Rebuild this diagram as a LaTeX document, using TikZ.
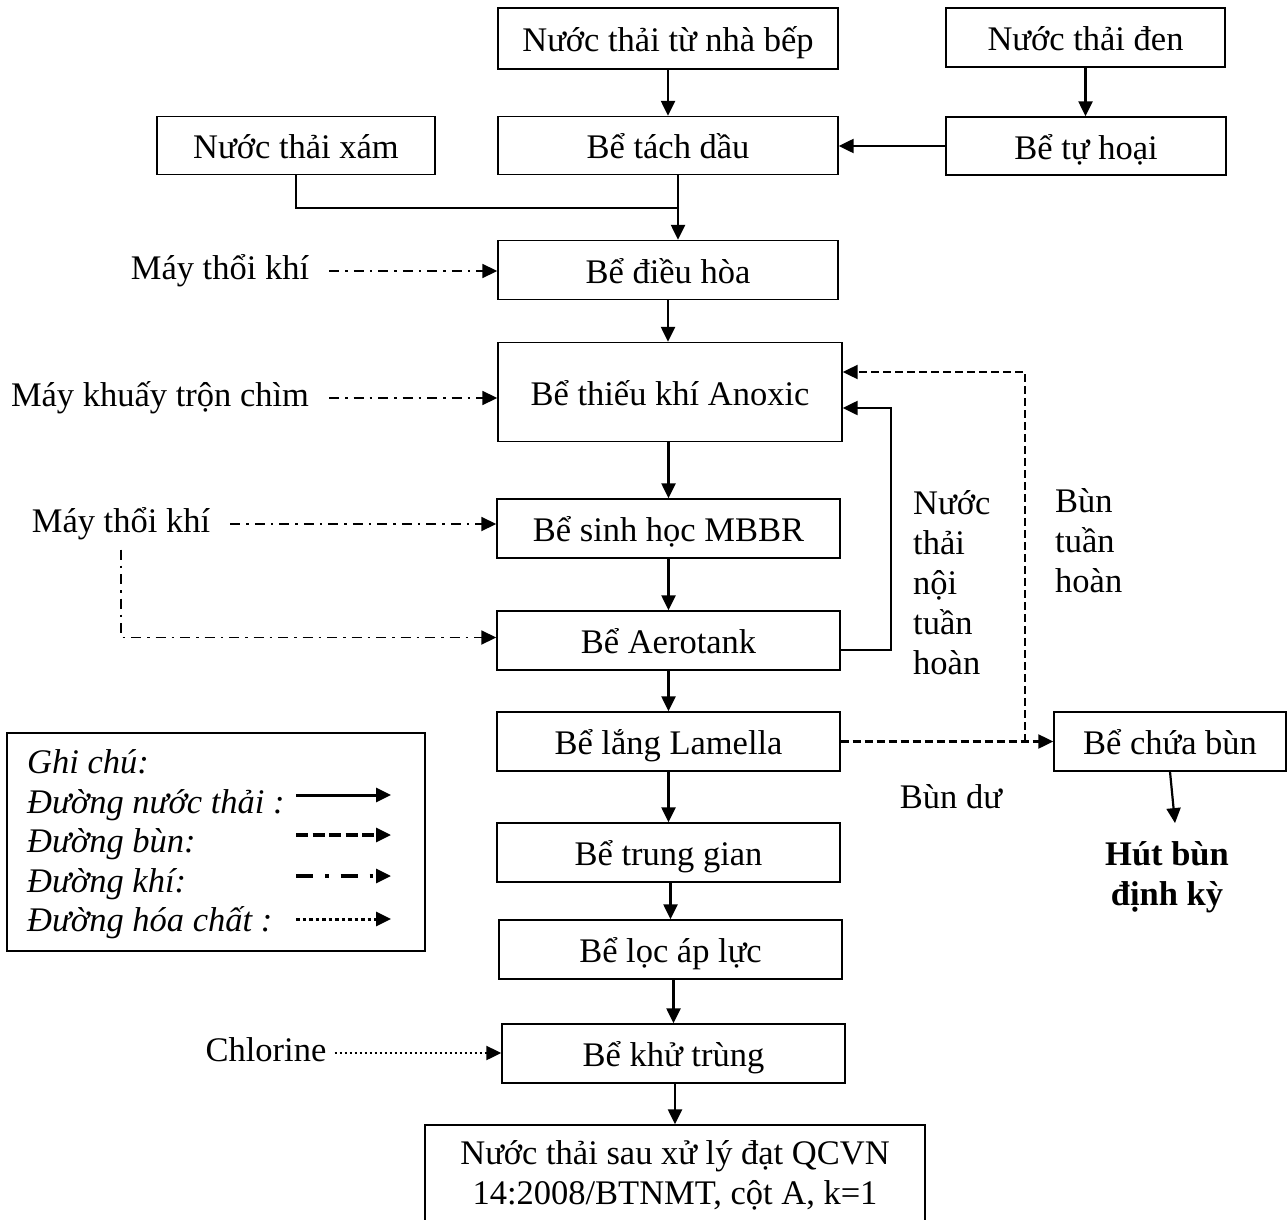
\documentclass[tikz,border=0pt]{standalone}
\usepackage{fontspec}
\setmainfont{Liberation Serif}
\usetikzlibrary{arrows.meta,calc}
\begin{document}
\begin{tikzpicture}[x=1pt,y=-1pt,font=\fontsize{34.5}{40}\selectfont,
  box/.style={draw,line width=1.4pt,inner sep=0pt,align=center},
  one/.style={text height=32pt,text depth=6pt},
  lbl/.style={inner sep=0pt,align=left},
  lone/.style={lbl,text height=26pt,text depth=9pt},
  tip/.style={-{Triangle[length=15pt,width=14pt]}},
  flow/.style={line width=2.4pt,tip},
  plain/.style={line width=2.2pt},
  mud/.style={line width=2.2pt,dash pattern=on 8pt off 4pt,tip},
  air/.style={line width=1.8pt,dash pattern=on 10pt off 6pt on 2.5pt off 6pt,tip},
  chem/.style={line width=2.2pt,dash pattern=on 2.5pt off 2.5pt,tip}]
\fill[white] (0,0) rectangle (1287,1220);
\useasboundingbox (0,0) rectangle (1287,1220);

% boxes
\node[box,one,minimum width=340pt,minimum height=61pt] (kit) at (668,38.5) {Nước thải từ nhà bếp};
\node[box,one,minimum width=279pt,minimum height=59pt] (den) at (1085.5,37.5) {Nước thải đen};
\node[box,one,minimum width=278pt,minimum height=58pt] (xam) at (296,145.5) {Nước thải xám};
\node[box,one,minimum width=340pt,minimum height=58pt] (tach) at (668,145.5) {Bể tách dầu};
\node[box,one,minimum width=280pt,minimum height=58pt] (tuhoai) at (1086,146) {Bể tự hoại};
\node[box,one,minimum width=340pt,minimum height=59pt] (dieuhoa) at (668,270) {Bể điều hòa};
\node[box,one,minimum width=344pt,minimum height=99pt] (anoxic) at (670,392) {Bể thiếu khí Anoxic};
\node[box,one,minimum width=343pt,minimum height=59pt] (mbbr) at (668.5,528.5) {Bể sinh học MBBR};
\node[box,one,minimum width=343pt,minimum height=59pt] (aero) at (668.5,640.5) {Bể Aerotank};
\node[box,one,minimum width=343pt,minimum height=59pt] (lamella) at (668.5,741.5) {Bể lắng Lamella};
\node[box,one,minimum width=343pt,minimum height=59pt] (trung) at (668.5,852.5) {Bể trung gian};
\node[box,one,minimum width=343pt,minimum height=59pt] (loc) at (670.5,949.5) {Bể lọc áp lực};
\node[box,one,minimum width=343pt,minimum height=59pt] (khu) at (673.5,1053.5) {Bể khử trùng};
\node[box,minimum width=500pt,minimum height=100pt] (final) at (675,1175) {Nước thải sau xử lý đạt QCVN\\14:2008/BTNMT, cột A, k=1};
\node[box,one,minimum width=232pt,minimum height=59pt] (chua) at (1170,741.5) {Bể chứa bùn};

% labels
\node[lone] (may1) at (220,271) {Máy thổi khí};
\node[lone] (may2) at (160,398) {Máy khuấy trộn chìm};
\node[lone] (may3) at (121,524) {Máy thổi khí};
\node[lone] (chl) at (266,1053) {Chlorine};
\node[lbl,anchor=west] (ntnth) at (913,583) {Nước\\thải\\nội\\tuần\\hoàn};
\node[lbl,anchor=west] (bth) at (1055,541) {Bùn\\tuần\\hoàn};
\node[lbl,anchor=base] (bundu) at (951,808) {Bùn dư};
\node[lbl,align=center,font=\fontsize{34.5}{40}\selectfont\bfseries] (hut) at (1167,877) {Hút bùn\\định kỳ};

% main flow
\draw[flow] (kit.south) -- (kit.south |- tach.north);
\draw[flow] (den.south) -- (den.south |- tuhoai.north);
\draw[flow] (tuhoai.west) -- (tuhoai.west -| tach.east);
\coordinate (j) at (678,208);
\draw[flow] ([xshift=10pt]tach.south) -- ([xshift=10pt]tach.south |- dieuhoa.north);
\draw[plain] (xam.south) |- (j);
\draw[flow] (dieuhoa.south) -- (dieuhoa.south |- anoxic.north);
\draw[flow] (anoxic.south -| mbbr.north) -- (mbbr.north);
\draw[flow] (mbbr.south) -- (aero.north);
\draw[flow] (aero.south) -- (lamella.north);
\draw[flow] (lamella.south) -- (trung.north);
\draw[flow] (trung.south -| loc.north) -- (loc.north);
\draw[flow] (loc.south -| khu.north) -- (khu.north);
\draw[flow] (khu.south -| final.north) -- (final.north);

% internal recirculation
\coordinate (r1) at (891,408);
\draw[flow] ([yshift=-9.5pt]aero.east) -| (r1) -- (r1 -| anoxic.east);

% sludge
\coordinate (r2) at (1025,372);
\draw[mud] (lamella.east) -- (chua.west);
\draw[mud] (lamella.east -| r2) -- (r2) -- (r2 -| anoxic.east);
\draw[flow,line width=2.2pt] (chua.south) -- ([xshift=8pt,yshift=18pt]hut.north);

% air
\draw[air,shorten <=20pt] (may1.east) -- (may1.east -| dieuhoa.west);
\draw[air,shorten <=20pt] (may2.east) -- (may2.east -| anoxic.west);
\draw[air,shorten <=20pt] (may3.east) -- (may3.east -| mbbr.west);
\draw[air] ($(may3.south)+(0,8)$) |- ([yshift=3pt]aero.west);

% chemical
\draw[chem,shorten <=8pt] (chl.east) -- (chl.east -| khu.west);

% legend
\node[box,minimum width=418pt,minimum height=218pt] (leg) at (216,842) {};
\begin{scope}[every node/.style={lbl,anchor=base west,font=\fontsize{34.5}{40}\selectfont\itshape}]
\node (g0) at (27,773) {Ghi chú:};
\node (g1) at (27,813) {Đường nước thải :};
\node (g2) at (27,852) {Đường bùn:};
\node (g3) at (27,892) {Đường khí:};
\node (g4) at (27,931) {Đường hóa chất :};
\end{scope}
\coordinate (a1) at (296,795); \coordinate (b1) at (391,795);
\coordinate (a2) at (296,835); \coordinate (b2) at (391,835);
\coordinate (a3) at (296,876); \coordinate (b3) at (391,876);
\coordinate (a4) at (296,919); \coordinate (b4) at (391,919);
\draw[flow,line width=3pt] (a1) -- (b1);
\draw[mud,line width=3.2pt,dash pattern=on 12pt off 4.5pt] (a2) -- (b2);
\draw[air,line width=3.2pt,dash pattern=on 17pt off 12pt on 3.5pt off 12pt] (a3) -- (b3);
\draw[chem,line width=3pt,dash pattern=on 3.5pt off 3pt] (a4) -- (b4);
\end{tikzpicture}
\end{document}
